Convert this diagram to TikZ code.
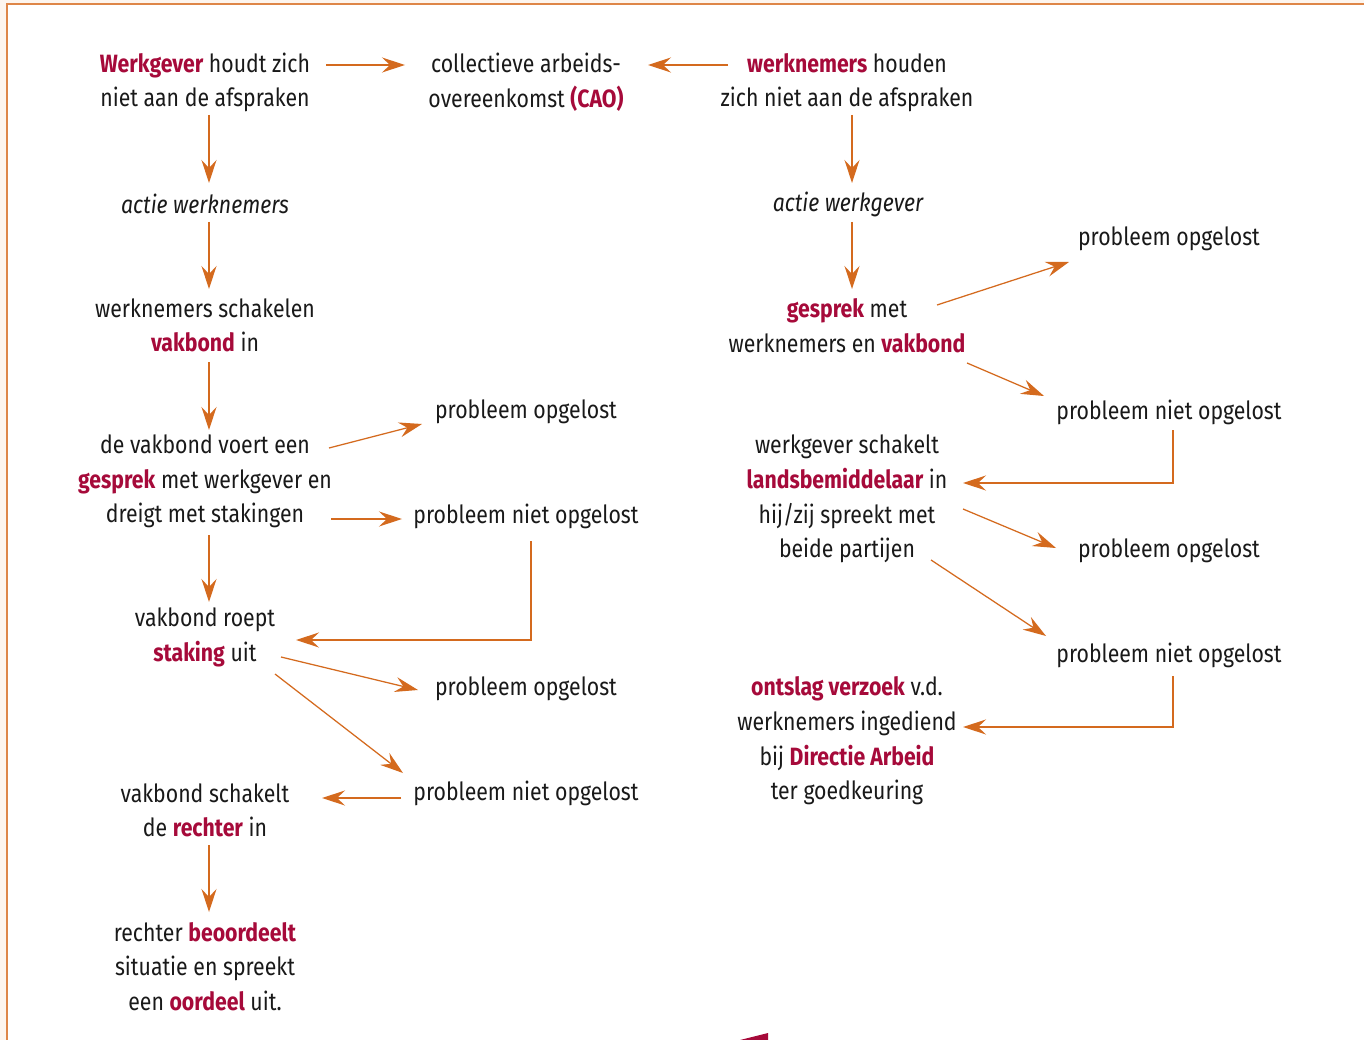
\documentclass[tikz,border=0pt]{standalone}
\usepackage{fontspec}
\setmainfont{Fira Sans}[FakeStretch=0.85]
\usetikzlibrary{arrows.meta}
\definecolor{cred}{RGB}{166,10,58}
\definecolor{corange}{RGB}{212,106,30}
\definecolor{cframe}{RGB}{222,134,72}
\definecolor{cpeach}{RGB}{253,245,238}
\definecolor{ctext}{RGB}{25,25,25}
\newcommand{\hl}[1]{\textcolor{cred}{\bfseries #1}}
\begin{document}
\begin{tikzpicture}[x=1pt,y=-1pt,
  txt/.style={align=center, inner sep=0pt, text=ctext, font=\fontsize{25}{34.6}\selectfont},
  itxt/.style={txt, font=\fontsize{25}{34.6}\selectfont\itshape},
  arr/.style={draw=corange, line width=1.25pt, -{Stealth[length=23pt,width=15pt,inset=8pt]}}]
\useasboundingbox (0,0) rectangle (1364,1040);
% frame
\fill[cpeach] (0,0) rectangle (1364,1040);
\fill[white] (7,4) rectangle (1364,1040);
\draw[cframe, line width=1.5pt] (7,1040) -- (7,4) -- (1364,4);
\fill[cred] (740,1040) -- (768,1033) -- (768,1040) -- cycle;

% nodes
\node[txt] (n1) at (205,82.5) {\hl{Werkgever} houdt zich\\niet aan de afspraken};
\node[txt] (cao) at (526,82.5) {collectieve arbeids-\\overeenkomst \hl{(CAO)}};
\node[txt] (n2) at (847,82.5) {\hl{werknemers} houden\\zich niet aan de afspraken};
\node[itxt] (aw) at (205,204) {actie werknemers};
\node[itxt] (ag) at (848,204) {actie werkgever};
\node[txt] (l3) at (205,325.5) {werknemers schakelen\\\hl{vakbond} in};
\node[txt] (r3) at (847,325.5) {\hl{gesprek} met\\werknemers en \hl{vakbond}};
\node[txt] (rp1) at (1169,239) {probleem opgelost};
\node[txt] (l4) at (205,481.5) {de vakbond voert een\\\hl{gesprek} met werkgever en\\dreigt met stakingen};
\node[txt] (mp1) at (526,412) {probleem opgelost};
\node[txt] (mn1) at (526,516) {probleem niet opgelost};
\node[txt] (rn1) at (1169,412) {probleem niet opgelost};
\node[txt] (r4) at (847,499) {werkgever schakelt\\\hl{landsbemiddelaar} in\\hij/zij spreekt met\\beide partijen};
\node[txt] (rp2) at (1169,551) {probleem opgelost};
\node[txt] (rn2) at (1169,655) {probleem niet opgelost};
\node[txt] (l5) at (205,637.5) {vakbond roept\\\hl{staking} uit};
\node[txt] (mp2) at (526,689) {probleem opgelost};
\node[txt] (mn2) at (526,793) {probleem niet opgelost};
\node[txt] (r5) at (847,741) {\hl{ontslag verzoek} v.d.\\werknemers ingediend\\bij \hl{Directie Arbeid}\\ter goedkeuring};
\node[txt] (l6) at (205,810.5) {vakbond schakelt\\de \hl{rechter} in};
\node[txt] (l7) at (205,966.5) {rechter \hl{beoordeelt}\\situatie en spreekt\\een \hl{oordeel} uit.};

% connectors
\draw[arr] (326,65) -- (405,65);
\draw[arr] (728,65) -- (648,65);
\draw[arr] (209,115) -- (209,183);
\draw[arr] (209,222) -- (209,289);
\draw[arr] (209,362) -- (209,430);
\draw[arr] (209,535) -- (209,602);
\draw[arr] (209,845) -- (209,912);
\draw[arr] (852,115) -- (852,183);
\draw[arr] (852,222) -- (852,289);
\draw[arr] (329,448) -- (422,424);
\draw[arr] (331,519) -- (402,519);
\draw[arr] (531,541) -- (531,640) -- (296,640);
\draw[arr] (281,657) -- (418,690);
\draw[arr] (275,674) -- (403,773);
\draw[arr] (401,798) -- (322,798);
\draw[arr] (937,305) -- (1069,262);
\draw[arr] (967,363) -- (1044,396);
\draw[arr] (1173,430) -- (1173,483) -- (963,483);
\draw[arr] (963,509) -- (1056,548);
\draw[arr] (931,560) -- (1046,636);
\draw[arr] (1173,676) -- (1173,727) -- (963,727);
\end{tikzpicture}
\end{document}
